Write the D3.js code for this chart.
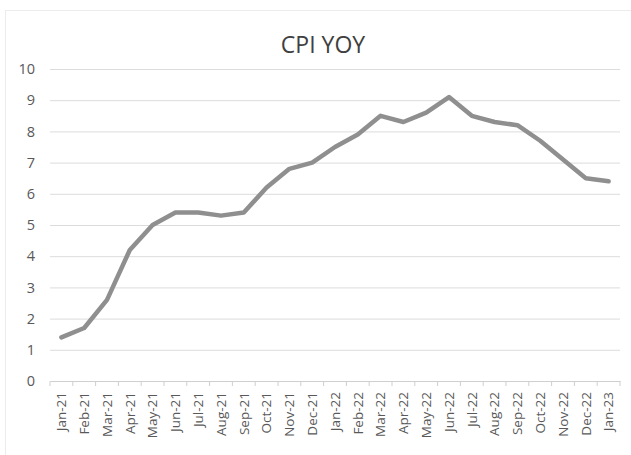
<!DOCTYPE html>
<html>
<head>
<meta charset="utf-8">
<script src="https://cdn.jsdelivr.net/npm/d3@7"></script>
<style>
  body { margin: 0; background: #fff; }
  #chart { width: 631px; height: 455px; }
  .axis text { font-family: "Open Sans", "Liberation Sans", sans-serif; fill: #595959; }
  .grid line { stroke: #dcdcdc; stroke-width: 1; }
  .grid .domain { display: none; }
</style>
</head>
<body>
<div id="chart"></div>
<script>
const months = ["Jan-21","Feb-21","Mar-21","Apr-21","May-21","Jun-21","Jul-21","Aug-21","Sep-21","Oct-21","Nov-21","Dec-21",
  "Jan-22","Feb-22","Mar-22","Apr-22","May-22","Jun-22","Jul-22","Aug-22","Sep-22","Oct-22","Nov-22","Dec-22","Jan-23"];
const cpi = [1.4,1.7,2.6,4.2,5.0,5.4,5.4,5.3,5.4,6.2,6.8,7.0,7.5,7.9,8.5,8.3,8.6,9.1,8.5,8.3,8.2,7.7,7.1,6.5,6.4];
const yTicks = [0,1,2,3,4,5,6,7,8,9,10];
const title = "CPI YOY";

function renderChart(containerSelector) {
    const container = d3.select(containerSelector);
    const width = container.node().clientWidth;
    const height = container.node().clientHeight;

    container.selectAll("*").remove();

    const margin = { top: 69, right: 11, bottom: 74, left: 50 };
    const data = months.map((m, i) => ({ month: m, value: cpi[i] }));

    const svg = container.append("svg")
        .attr("width", width)
        .attr("height", height);

    // faint chart-area border
    svg.append("rect")
        .attr("x", 5.5).attr("y", 10.5)
        .attr("width", width + 10).attr("height", height + 10)
        .attr("fill", "none")
        .attr("stroke", "#ececec");

    const x = d3.scaleBand()
        .domain(months)
        .range([margin.left, width - margin.right]);

    const y = d3.scaleLinear()
        .domain([0, 10])
        .range([height - margin.bottom, margin.top]);

    // grid
    svg.append("g")
        .attr("class", "grid")
        .attr("transform", `translate(${margin.left},0)`)
        .call(d3.axisLeft(y).tickValues(yTicks.slice(1)).tickSize(-(width - margin.left - margin.right)).tickFormat(""));

    // y labels
    const yAxis = svg.append("g")
        .attr("class", "axis")
        .attr("transform", `translate(${margin.left},0)`)
        .call(d3.axisLeft(y).tickValues(yTicks).tickSize(0).tickPadding(15));
    yAxis.select(".domain").remove();
    yAxis.selectAll("text").style("font-size", "14.5px");

    // x axis with ticks at band edges
    const xAxis = svg.append("g")
        .attr("class", "axis")
        .attr("transform", `translate(0,${y(0)})`)
        .call(d3.axisBottom(x).tickSize(0).tickPadding(0));
    xAxis.select(".domain").attr("stroke", "#cfcfcf");
    xAxis.selectAll("text")
        .style("font-size", "13.5px")
        .attr("transform", "rotate(-90)")
        .attr("text-anchor", "end")
        .attr("dx", "-11px")
        .attr("dy", "0.35em")
        .attr("y", 0);

    svg.append("g")
        .selectAll("line")
        .data(months.concat(["end"]))
        .join("line")
        .attr("x1", (d, i) => i < months.length ? x(d) : x.range()[1])
        .attr("x2", (d, i) => i < months.length ? x(d) : x.range()[1])
        .attr("y1", y(0))
        .attr("y2", y(0) + 5)
        .attr("stroke", "#cfcfcf");

    // line
    const line = d3.line()
        .x(d => x(d.month) + x.bandwidth() / 2)
        .y(d => y(d.value));

    svg.append("path")
        .datum(data)
        .attr("fill", "none")
        .attr("stroke", "#8f8f8f")
        .attr("stroke-width", 4.5)
        .attr("stroke-linejoin", "round")
        .attr("stroke-linecap", "round")
        .attr("d", line);

    // title
    svg.append("text")
        .attr("x", 323)
        .attr("y", 53)
        .attr("text-anchor", "middle")
        .style("font-family", "'Liberation Sans Narrow', 'Open Sans', sans-serif")
        .style("font-size", "23px")
        .style("fill", "#404040")
        .text(title);
}

renderChart("#chart");
</script>
</body>
</html>
